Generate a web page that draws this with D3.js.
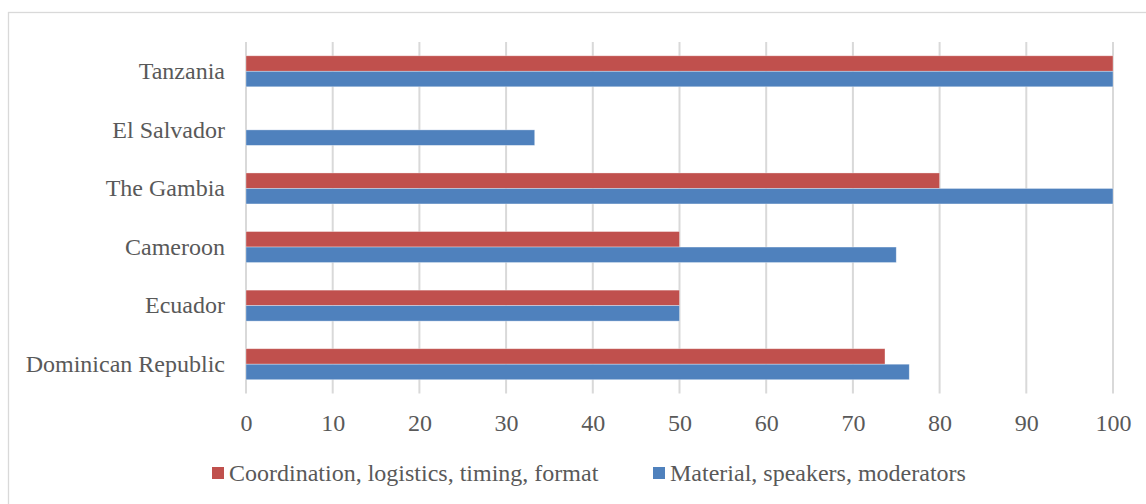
<!DOCTYPE html>
<html>
<head>
<meta charset="utf-8">
<script src="https://cdn.jsdelivr.net/npm/d3@7"></script>
<style>
  html, body { margin: 0; padding: 0; background: #fff; overflow: hidden; }
  svg { display: block; }
  text { font-family: "Liberation Serif", "Times New Roman", serif; fill: #595959; }
</style>
</head>
<body>
<svg id="chart" width="1146" height="504"></svg>
<script>
// Countries, top to bottom
const countries = ["Tanzania", "El Salvador", "The Gambia", "Cameroon", "Ecuador", "Dominican Republic"];
// Series names (legend order)
const seriesNames = ["Coordination, logistics, timing, format", "Material, speakers, moderators"];
// Percent values per country, same order as countries
const coordinationValues = [100, 0, 80, 50, 50, 73.7];
const materialValues = [100, 33.3, 100, 75, 50, 76.5];
const seriesColors = ["#C0504D", "#4F81BD"];
const xTicks = [0, 10, 20, 30, 40, 50, 60, 70, 80, 90, 100];

const seriesValues = [coordinationValues, materialValues];

const svg = d3.select("#chart");
const W = 1146, H = 504;
const plot = { left: 246, right: 1113, top: 42, bottom: 393.5 };

// Chart area frame (only top and left edges fall inside the view)
svg.append("rect")
  .attr("x", 8.5).attr("y", 12.5)
  .attr("width", 1300).attr("height", 700)
  .attr("fill", "none").attr("stroke", "#d9d9d9").attr("stroke-width", 1.3);

const x = d3.scaleLinear().domain([0, 100]).range([plot.left, plot.right]);
const y0 = d3.scaleBand().domain(countries).range([plot.top, plot.bottom]).padding(0);
const y1 = d3.scaleBand().domain(d3.range(seriesNames.length))
  .range([0, y0.bandwidth()]).paddingInner(0).paddingOuter(0.89);

// Vertical gridlines
svg.append("g")
  .selectAll("line")
  .data(xTicks)
  .join("line")
  .attr("x1", d => x(d)).attr("x2", d => x(d))
  .attr("y1", plot.top).attr("y2", plot.bottom)
  .attr("stroke", "#d9d9d9").attr("stroke-width", 2);

// Bars
const groups = svg.append("g")
  .selectAll("g")
  .data(countries)
  .join("g")
  .attr("transform", c => `translate(0,${y0(c)})`);

groups.selectAll("rect")
  .data((c, i) => seriesValues.map((vals, s) => ({ s, v: vals[i] })))
  .join("rect")
  .attr("x", x(0))
  .attr("y", d => y1(d.s))
  .attr("width", d => x(d.v) - x(0))
  .attr("height", y1.bandwidth())
  .attr("fill", d => seriesColors[d.s])
  .attr("stroke", d => d.v > 0 ? "rgba(255,255,255,0.45)" : "none")
  .attr("stroke-width", 0.75);

// Category labels
svg.append("g")
  .selectAll("text")
  .data(countries)
  .join("text")
  .attr("x", 225)
  .attr("y", c => y0(c) + y0.bandwidth() / 2)
  .attr("dy", "0.32em")
  .attr("text-anchor", "end")
  .style("font-size", "24px")
  .text(c => c);

// X axis tick labels
const xAxis = d3.axisBottom(x).tickValues(xTicks).tickSize(0).tickPadding(0);
const gx = svg.append("g")
  .attr("transform", `translate(0,414)`)
  .call(xAxis);
gx.select(".domain").remove();
gx.selectAll("text")
  .attr("y", 0)
  .attr("dy", "0.71em")
  .style("font-size", "24px")
  .style("font-family", '"Liberation Serif", "Times New Roman", serif')
  .attr("fill", "#595959");

// Legend
const legendX = [212, 653];
const legend = svg.append("g")
  .selectAll("g")
  .data(seriesNames)
  .join("g")
  .attr("transform", (d, i) => `translate(${legendX[i]},0)`);
legend.append("rect")
  .attr("x", 0).attr("y", 467)
  .attr("width", 12).attr("height", 12)
  .attr("fill", (d, i) => seriesColors[i]);
legend.append("text")
  .attr("x", 17).attr("y", 481)
  .style("font-size", "24px")
  .text(d => d);
</script>
</body>
</html>
